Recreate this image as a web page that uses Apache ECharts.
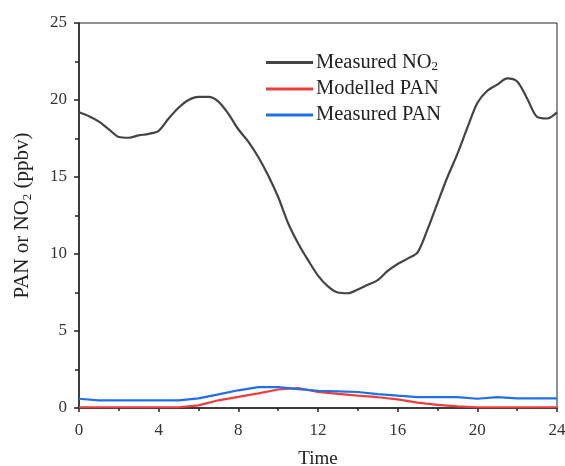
<!DOCTYPE html>
<html>
<head>
<meta charset="utf-8">
<script src="https://cdn.jsdelivr.net/npm/echarts@6/dist/echarts.min.js"></script>
<style>html,body{margin:0;padding:0;background:#fff}#c{width:565px;height:466px}</style>
</head>
<body>
<div id="c"></div>
<script>
var no2Hours = [0,0.5,1,1.5,2,2.5,3,3.5,4,4.5,5,5.5,6,6.5,7,7.5,8,8.5,9,9.5,10,10.5,11,11.5,12,12.5,13,13.5,14,14.5,15,15.5,16,16.5,17,17.5,18,18.5,19,19.5,20,20.5,21,21.5,22,22.5,23,23.5,24];
var measuredNO2 = [19.2,18.95,18.6,18.1,17.6,17.55,17.7,17.8,18.0,18.8,19.5,20.0,20.2,20.2,19.9,19.1,18.1,17.3,16.3,15.1,13.7,12.0,10.7,9.6,8.6,7.9,7.5,7.45,7.7,8.0,8.3,8.9,9.35,9.7,10.1,11.6,13.3,15.0,16.5,18.2,19.8,20.6,21.0,21.4,21.2,20.1,18.9,18.8,19.2];
var panHours = [0,1,2,3,4,5,6,7,8,9,10,11,12,13,14,15,16,17,18,19,20,21,22,23,24];
var modelledPAN = [0.05,0.05,0.05,0.05,0.05,0.05,0.17,0.5,0.72,0.95,1.2,1.3,1.05,0.92,0.8,0.7,0.56,0.35,0.2,0.1,0.05,0.05,0.05,0.05,0.05];
var measuredPAN = [0.6,0.5,0.5,0.5,0.5,0.5,0.62,0.88,1.15,1.36,1.36,1.22,1.12,1.08,1.04,0.9,0.8,0.71,0.71,0.71,0.6,0.7,0.63,0.62,0.62];
var xTicks = [0,4,8,12,16,20,24];
var yTicks = [0,5,10,15,20,25];
var seriesNames = ['Measured NO2','Modelled PAN','Measured PAN'];

function pairs(xs, ys){ return xs.map(function(x,i){ return [x, ys[i]]; }); }

var font = '"Liberation Serif", "Times New Roman", serif';
var chart = echarts.init(document.getElementById('c'), null, {renderer:'canvas'});
chart.setOption({
  animation: false,
  backgroundColor: '#fff',
  textStyle: {fontFamily: font},
  grid: {left: 79, right: 8, top: 23, bottom: 58, show: true, borderColor: '#222', borderWidth: 1,
    outerBoundsMode: 'none', containLabel: false},
  legend: {
    orient: 'vertical', left: 261, top: 47,
    itemWidth: 47, itemHeight: 3, itemGap: 5, icon: 'rect',
    data: seriesNames,
    formatter: function(n){ return n === 'Measured NO2' ? 'Measured NO{sub|2}' : n; },
    textStyle: {fontFamily: font, fontSize: 20.5, color: '#222', padding: [0,0,0,-2],
      rich: {sub: {fontFamily: font, fontSize: 13, color: '#222', padding: [9,0,0,0]}}}
  },
  xAxis: {
    type: 'value', min: 0, max: 24, interval: 4,
    name: 'Time', nameLocation: 'middle', nameGap: 42,
    nameTextStyle: {fontFamily: font, fontSize: 19, color: '#222'},
    axisLine: {show: true, onZero: false, lineStyle: {color: '#222', width: 1.5}},
    axisTick: {show: true, inside: false, length: 4, lineStyle: {color: '#222', width: 1.5}},
    minorTick: {show: true, splitNumber: 2, length: 3, lineStyle: {color: '#222', width: 1.5}},
    axisLabel: {fontFamily: font, fontSize: 17, color: '#333', margin: 14,
      customValues: xTicks},
    splitLine: {show: false}
  },
  yAxis: {
    type: 'value', min: 0, max: 25, interval: 5,
    name: 'PAN or NO{sub|2} (ppbv)', nameLocation: 'middle', nameGap: 45, nameRotate: 90,
    nameTextStyle: {fontFamily: font, fontSize: 21, color: '#222',
      rich: {sub: {fontFamily: font, fontSize: 13, color: '#222', padding: [10,0,0,0]}}},
    axisLine: {show: true, onZero: false, lineStyle: {color: '#222', width: 1.5}},
    axisTick: {show: true, inside: false, length: 5, lineStyle: {color: '#222', width: 1.5}},
    minorTick: {show: true, splitNumber: 2, length: 4, lineStyle: {color: '#222', width: 1.5}},
    axisLabel: {fontFamily: font, fontSize: 17, color: '#333', margin: 12,
      customValues: yTicks},
    splitLine: {show: false}
  },
  series: [
    {name: seriesNames[0], type: 'line', data: pairs(no2Hours, measuredNO2), smooth: 0.3,
      showSymbol: false, lineStyle: {color: '#444', width: 2.2}, itemStyle: {color: '#444'}},
    {name: seriesNames[1], type: 'line', data: pairs(panHours, modelledPAN),
      showSymbol: false, lineStyle: {color: '#ef3d3d', width: 2.2}, itemStyle: {color: '#ef3d3d'}},
    {name: seriesNames[2], type: 'line', data: pairs(panHours, measuredPAN),
      showSymbol: false, lineStyle: {color: '#1f6fe6', width: 2.2}, itemStyle: {color: '#1f6fe6'}}
  ]
});
</script>
</body>
</html>
